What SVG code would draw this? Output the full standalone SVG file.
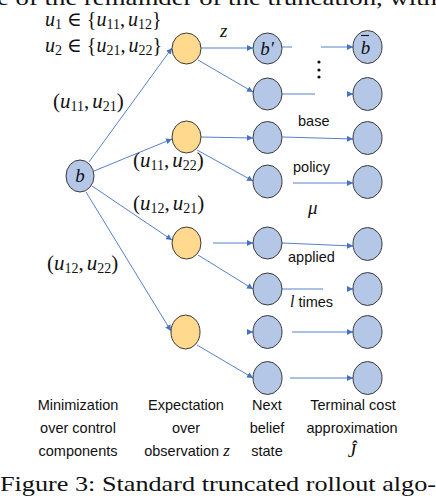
<svg xmlns="http://www.w3.org/2000/svg" width="436" height="498" viewBox="0 0 436 498">
<defs>
<marker id="ah" viewBox="0 0 10 10" refX="10" refY="5" markerWidth="6" markerHeight="6" orient="auto" markerUnits="userSpaceOnUse"><path d="M0,0 L10,5 L0,10 z" fill="#4472C4"/></marker>
<style>
.b{fill:#B4C7E7;stroke:#3a3a3a;stroke-width:1}
.o{fill:#FFD98E;stroke:#3a3a3a;stroke-width:1}
.e{stroke:#4472C4;stroke-width:0.9;fill:none}
.ea{stroke:#4472C4;stroke-width:0.9;fill:none;marker-end:url(#ah)}
.m{font-family:"Liberation Serif","DejaVu Serif",serif;font-size:19px;fill:#111}
.p{font-size:21px}
.q{font-size:20px}
.i{font-style:italic}
.s{font-size:14px}
.t{font-family:"Liberation Sans","DejaVu Sans",sans-serif;font-size:14.5px;fill:#111}
.c{font-family:"Liberation Serif","Times New Roman",serif;font-size:21px;fill:#111}
</style>
</defs>
<rect width="436" height="498" fill="#fff"/>
<text class="c" x="-3" y="5" textLength="440" lengthAdjust="spacingAndGlyphs">e of the remainder of the truncation, with</text>

<g id="connectors">
<line class="ea" x1="89" y1="162" x2="172" y2="48"/>
<line class="ea" x1="94" y1="171" x2="172" y2="139"/>
<line class="ea" x1="92" y1="186" x2="172" y2="240"/>
<line class="ea" x1="86" y1="192" x2="171" y2="331"/>
<line class="ea" x1="201" y1="48" x2="253" y2="48"/>
<line class="ea" x1="198" y1="60" x2="253" y2="92"/>
<line class="ea" x1="200" y1="137" x2="253" y2="138"/>
<line class="ea" x1="197" y1="150" x2="253" y2="181"/>
<line class="ea" x1="213" y1="243" x2="253" y2="243"/>
<line class="ea" x1="198" y1="255" x2="253" y2="289"/>
<line class="ea" x1="248" y1="332" x2="253" y2="332"/>
<line class="ea" x1="197" y1="345" x2="253" y2="378"/>
<line class="e" x1="282" y1="47" x2="292" y2="47"/>
<line class="ea" x1="321" y1="47" x2="353" y2="47"/>
<line class="e" x1="282" y1="94" x2="315" y2="94"/>
<line class="ea" x1="348" y1="94" x2="353" y2="94"/>
<line class="ea" x1="282" y1="137" x2="353" y2="139"/>
<line class="ea" x1="293" y1="183" x2="353" y2="183"/>
<line class="ea" x1="282" y1="243" x2="353" y2="246"/>
<line class="e" x1="282" y1="289" x2="323" y2="289"/>
<line class="ea" x1="348" y1="289" x2="353" y2="289"/>
<line class="ea" x1="292" y1="332" x2="353" y2="332"/>
<line class="ea" x1="290" y1="378" x2="353" y2="378"/>
</g>

<g id="root"><ellipse class="b" cx="80" cy="176" rx="14" ry="16"/><text class="m i" x="80" y="182" text-anchor="middle">b</text></g>

<g id="o1"><ellipse class="o" cx="186.5" cy="48.5" rx="14.5" ry="15.5"/></g>
<g id="o2"><ellipse class="o" cx="186.5" cy="137" rx="14.5" ry="16"/></g>
<g id="o3"><ellipse class="o" cx="186.5" cy="243" rx="14.5" ry="16"/></g>
<g id="o4"><ellipse class="o" cx="185.5" cy="332" rx="14.5" ry="17"/></g>

<g id="n1"><ellipse class="b" cx="267.5" cy="48.5" rx="14.5" ry="15.5"/><text class="m i" x="267" y="55" text-anchor="middle">b′</text></g>
<g id="n2"><ellipse class="b" cx="267.5" cy="94" rx="14.5" ry="16"/></g>
<g id="n3"><ellipse class="b" cx="267.5" cy="137.5" rx="14.5" ry="16"/></g>
<g id="n4"><ellipse class="b" cx="267.5" cy="181.5" rx="14.5" ry="16.5"/></g>
<g id="n5"><ellipse class="b" cx="267.5" cy="243" rx="14.5" ry="16"/></g>
<g id="n6"><ellipse class="b" cx="267.5" cy="289" rx="14.5" ry="16"/></g>
<g id="n7"><ellipse class="b" cx="267.5" cy="332" rx="14.5" ry="16.5"/></g>
<g id="n8"><ellipse class="b" cx="267.5" cy="378" rx="14.5" ry="16.5"/></g>

<g id="t1"><ellipse class="b" cx="367.5" cy="47" rx="14.5" ry="16.5"/><text class="m i" x="365.5" y="54" text-anchor="middle">b</text><line x1="361" y1="35.5" x2="369" y2="35.5" stroke="#111" stroke-width="1.1"/></g>
<g id="t2"><ellipse class="b" cx="367.5" cy="94" rx="14.5" ry="16.5"/></g>
<g id="t3"><ellipse class="b" cx="367.5" cy="138" rx="14.5" ry="16.5"/></g>
<g id="t4"><ellipse class="b" cx="367.5" cy="182" rx="14.5" ry="16.5"/></g>
<g id="t5"><ellipse class="b" cx="367.5" cy="244" rx="14.5" ry="16.5"/></g>
<g id="t6"><ellipse class="b" cx="367.5" cy="289" rx="14.5" ry="16.5"/></g>
<g id="t7"><ellipse class="b" cx="367.5" cy="332" rx="14.5" ry="16.5"/></g>
<g id="t8"><ellipse class="b" cx="367.5" cy="378" rx="14.5" ry="16.5"/></g>

<g id="dots" fill="#111"><circle cx="319" cy="62" r="1.6"/><circle cx="319" cy="70" r="1.6"/><circle cx="319" cy="77" r="1.6"/></g>

<g id="labels">
<text class="m q" x="45" y="26"><tspan class="i">u</tspan><tspan class="s" dy="3">1</tspan><tspan dy="-3"> ∈ {</tspan><tspan class="i">u</tspan><tspan class="s" dy="3">11</tspan><tspan dy="-3">,</tspan><tspan class="i" dx="3">u</tspan><tspan class="s" dy="3">12</tspan><tspan dy="-3">}</tspan></text>
<text class="m q" x="45" y="52"><tspan class="i">u</tspan><tspan class="s" dy="3">2</tspan><tspan dy="-3"> ∈ {</tspan><tspan class="i">u</tspan><tspan class="s" dy="3">21</tspan><tspan dy="-3">,</tspan><tspan class="i" dx="3">u</tspan><tspan class="s" dy="3">22</tspan><tspan dy="-3">}</tspan></text>
<text class="m p" x="53" y="108">(<tspan class="i">u</tspan><tspan class="s" dy="3">11</tspan><tspan dy="-3">,</tspan><tspan class="i" dx="3">u</tspan><tspan class="s" dy="3">21</tspan><tspan dy="-3">)</tspan></text>
<text class="m p" x="133" y="167">(<tspan class="i">u</tspan><tspan class="s" dy="3">11</tspan><tspan dy="-3">,</tspan><tspan class="i" dx="3">u</tspan><tspan class="s" dy="3">22</tspan><tspan dy="-3">)</tspan></text>
<text class="m p" x="133" y="210">(<tspan class="i">u</tspan><tspan class="s" dy="3">12</tspan><tspan dy="-3">,</tspan><tspan class="i" dx="3">u</tspan><tspan class="s" dy="3">21</tspan><tspan dy="-3">)</tspan></text>
<text class="m p" x="47" y="270">(<tspan class="i">u</tspan><tspan class="s" dy="3">12</tspan><tspan dy="-3">,</tspan><tspan class="i" dx="3">u</tspan><tspan class="s" dy="3">22</tspan><tspan dy="-3">)</tspan></text>
<text class="m i" x="220" y="37">z</text>
<text class="t" x="298" y="126">base</text>
<text class="t" x="293" y="172">policy</text>
<text class="m i" x="308" y="214" font-size="15">μ</text>
<text class="t" x="288" y="262">applied</text>
<text class="t" x="290" y="307"><tspan font-family="Liberation Serif" font-style="italic" font-size="16">l</tspan> times</text>
<text class="t" text-anchor="middle"><tspan x="78" y="410">Minimization</tspan><tspan x="78" y="433">over control</tspan><tspan x="78" y="456">components</tspan></text>
<text class="t" text-anchor="middle"><tspan x="186" y="410">Expectation</tspan><tspan x="186" y="433">over</tspan><tspan x="187" y="456">observation <tspan font-family="Liberation Serif" font-style="italic" font-size="17">z</tspan></tspan></text>
<text class="t" text-anchor="middle"><tspan x="267" y="410">Next</tspan><tspan x="267" y="433">belief</tspan><tspan x="267" y="456">state</tspan></text>
<text class="t" text-anchor="middle"><tspan x="353" y="410">Terminal cost</tspan><tspan x="352" y="433">approximation</tspan></text>
<text class="m i" x="352" y="457" text-anchor="middle" font-size="17">Ĵ</text>
</g>
<text class="c" x="0" y="491" textLength="436" lengthAdjust="spacingAndGlyphs">Figure 3:  Standard truncated rollout algo-</text>
</svg>
